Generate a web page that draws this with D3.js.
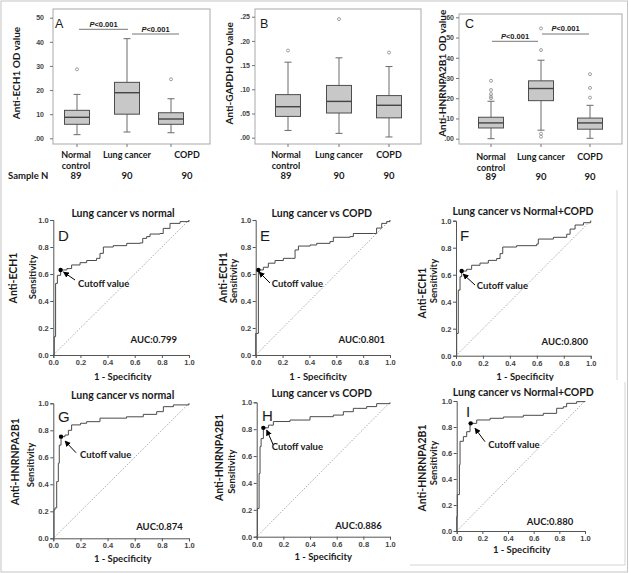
<!DOCTYPE html>
<html>
<head>
<meta charset="utf-8">
<script src="https://cdn.jsdelivr.net/npm/d3@7"></script>
<style>
body { margin: 0; background: #fff; }
svg { display: block; font-family: Lato, "Open Sans", sans-serif; }
</style>
</head>
<body>
<svg id="chart" width="629" height="573"></svg>
<script>
// ---- data ----
var groups = ["Normal control", "Lung cancer", "COPD"];
var groupN = [89, 90, 90];

// [lower whisker, Q1, median, Q3, upper whisker]
var ech1Box = [[1.5, 5.8, 8.7, 11.6, 18.2], [2.6, 10, 18.9, 23.2, 41.3], [2.3, 5.8, 8, 10.6, 16.4]];
var ech1Out = [[28.6], [], [24.5]];
var gapdhBox = [[0.015, 0.044, 0.064, 0.089, 0.156], [0.009, 0.051, 0.075, 0.108, 0.165], [0.0015, 0.041, 0.067, 0.087, 0.147]];
var gapdhOut = [[0.18], [0.245], [0.176]];
var hnrBox = [[0, 0.053, 0.078, 0.106, 0.185], [0.042, 0.188, 0.248, 0.286, 0.388], [0.002, 0.047, 0.078, 0.102, 0.165]];
var hnrOut = [[0.2, 0.208, 0.221, 0.241, 0.286], [0.01, 0.025, 0.438, 0.545], [0.203, 0.251, 0.319]];

var ech1Ticks = [0, 10, 20, 30, 40, 50];
var gapdhTicks = [0, 0.05, 0.10, 0.15, 0.20, 0.25];
var hnrTicks = [0, 0.1, 0.2, 0.3, 0.4, 0.5, 0.6];
var rocTicks = [0, 0.2, 0.4, 0.6, 0.8, 1.0];

// ROC curves: [1 - specificity, sensitivity]
var rocD = [[0,0],[0.007,0],[0.007,0.136],[0.017,0.136],[0.017,0.53],[0.03,0.59],[0.054,0.63],[0.074,0.63],[0.1,0.64],[0.135,0.667],[0.197,0.684],[0.246,0.70],[0.319,0.716],[0.344,0.753],[0.369,0.80],[0.442,0.81],[0.541,0.827],[0.639,0.83],[0.659,0.864],[0.688,0.877],[0.713,0.896],[0.786,0.90],[0.81,0.938],[0.86,0.975],[0.934,0.988],[1,1]];
var rocE = [[0,0],[0,0.16],[0.02,0.16],[0.02,0.63],[0.057,0.65],[0.094,0.68],[0.144,0.70],[0.206,0.716],[0.268,0.716],[0.293,0.778],[0.318,0.807],[0.405,0.815],[0.454,0.827],[0.553,0.84],[0.578,0.872],[0.702,0.877],[0.727,0.90],[0.876,0.90],[0.9,0.94],[0.938,0.975],[0.975,0.988],[1,1]];
var rocF = [[0,0],[0.005,0.07],[0.005,0.165],[0.017,0.486],[0.03,0.585],[0.042,0.627],[0.079,0.64],[0.116,0.67],[0.178,0.686],[0.24,0.706],[0.302,0.72],[0.327,0.756],[0.347,0.805],[0.45,0.815],[0.599,0.827],[0.611,0.864],[0.723,0.877],[0.822,0.90],[0.847,0.938],[0.884,0.968],[0.946,0.985],[1,1]];
var rocG = [[0,0],[0.005,0],[0.005,0.21],[0.012,0.225],[0.025,0.42],[0.037,0.556],[0.044,0.69],[0.057,0.753],[0.086,0.765],[0.111,0.80],[0.135,0.84],[0.2,0.852],[0.246,0.864],[0.344,0.89],[0.54,0.90],[0.663,0.918],[0.762,0.938],[0.811,0.975],[0.885,0.988],[1,1]];
var rocH = [[0,0],[0.005,0],[0.005,0.21],[0.018,0.21],[0.018,0.47],[0.025,0.67],[0.033,0.73],[0.05,0.81],[0.088,0.83],[0.125,0.857],[0.25,0.868],[0.4,0.893],[0.575,0.905],[0.65,0.93],[0.725,0.955],[0.825,0.968],[0.9,0.99],[1,1]];
var rocI = [[0,0],[0,0.11],[0.005,0.28],[0.021,0.51],[0.026,0.69],[0.052,0.726],[0.078,0.764],[0.104,0.828],[0.156,0.854],[0.26,0.867],[0.364,0.877],[0.519,0.89],[0.675,0.905],[0.779,0.944],[0.831,0.956],[0.857,0.982],[0.935,0.995],[1,1]];

var cutoffs = [[0.054, 0.63], [0.02, 0.63], [0.042, 0.627], [0.057, 0.753], [0.05, 0.81], [0.109, 0.828]];
var aucValues = ["0.799", "0.801", "0.800", "0.874", "0.886", "0.880"];
var rocTitles = ["Lung cancer vs normal", "Lung cancer vs COPD", "Lung cancer vs Normal+COPD",
                 "Lung cancer vs normal", "Lung cancer vs COPD", "Lung cancer vs Normal+COPD"];
var rocMarkers = ["Anti-ECH1", "Anti-ECH1", "Anti-ECH1", "Anti-HNRNPA2B1", "Anti-HNRNPA2B1", "Anti-HNRNPA2B1"];
var rocLetters = ["D", "E", "F", "G", "H", "I"];

var svg = d3.select("#chart");
var textCol = "#1a1a1a";

svg.append("defs").append("marker")
    .attr("id", "arrowHead")
    .attr("viewBox", "0 -5 10 10")
    .attr("refX", 9).attr("refY", 0)
    .attr("markerWidth", 6).attr("markerHeight", 6)
    .attr("markerUnits", "userSpaceOnUse")
    .attr("orient", "auto")
    .append("path").attr("d", "M0,-5L10,0L0,5Z").attr("fill", "#000");

function stripZero(d) {
    var s = d3.format(".2f")(d);
    return s.replace(/^0\./, ".");
}

// ---- box plot panels ----
function boxPanel(p) {
    var g = svg.append("g");
    var y = d3.scaleLinear().domain(p.domain).range(p.range);
    var f = p.frame;

    g.append("rect")
        .attr("x", f[0]).attr("y", f[1])
        .attr("width", f[2] - f[0]).attr("height", f[3] - f[1])
        .attr("fill", "none").attr("stroke", "#a9a9a9").attr("stroke-width", 1);

    var ax = g.append("g")
        .attr("transform", "translate(" + f[0] + ",0)")
        .call(d3.axisLeft(y).tickValues(p.ticks).tickSize(3).tickPadding(p.pad).tickFormat(p.fmt));
    ax.select(".domain").remove();
    ax.selectAll("line").attr("stroke", "#777");
    ax.selectAll("text").attr("fill", "#444").style("font-family", "'Liberation Sans', Arial, sans-serif")
        .style("font-size", "7px").style("font-weight", "bold");

    // bottom category ticks
    g.selectAll(".xt").data(p.xs).enter().append("line")
        .attr("x1", function(d) { return d; }).attr("x2", function(d) { return d; })
        .attr("y1", f[3]).attr("y2", f[3] + 3).attr("stroke", "#777");

    p.box.forEach(function(b, i) {
        var cx = p.xs[i], hw = 12.5, cw = 3.5;
        g.append("line").attr("x1", cx).attr("x2", cx).attr("y1", y(b[4])).attr("y2", y(b[3])).attr("stroke", "#6a6a6a");
        g.append("line").attr("x1", cx).attr("x2", cx).attr("y1", y(b[1])).attr("y2", y(b[0])).attr("stroke", "#6a6a6a");
        g.append("line").attr("x1", cx - cw).attr("x2", cx + cw).attr("y1", y(b[4])).attr("y2", y(b[4])).attr("stroke", "#6a6a6a");
        g.append("line").attr("x1", cx - cw).attr("x2", cx + cw).attr("y1", y(b[0])).attr("y2", y(b[0])).attr("stroke", "#6a6a6a");
        g.append("rect").attr("x", cx - hw).attr("width", hw * 2)
            .attr("y", y(b[3])).attr("height", y(b[1]) - y(b[3]))
            .attr("fill", "#c8c8c8").attr("stroke", "#4d4d4d").attr("stroke-width", 1);
        g.append("line").attr("x1", cx - hw).attr("x2", cx + hw).attr("y1", y(b[2])).attr("y2", y(b[2]))
            .attr("stroke", "#444").attr("stroke-width", 1.4);
        g.selectAll(".o" + i).data(p.out[i]).enter().append("circle")
            .attr("cx", cx).attr("cy", function(d) { return y(d); }).attr("r", 1.5)
            .attr("fill", "none").attr("stroke", "#888").attr("stroke-width", 0.8);
    });

    // significance bars
    (p.sig || []).forEach(function(s) {
        g.append("line").attr("x1", s[0]).attr("x2", s[1]).attr("y1", s[2]).attr("y2", s[2]).attr("stroke", "#777");
        var t = g.append("text").attr("x", (s[0] + s[1]) / 2).attr("y", s[3]).attr("text-anchor", "middle")
            .attr("fill", textCol)
            .style("font-family", "'Liberation Sans', Arial, sans-serif").style("font-size", "7.5px").style("font-weight", "bold");
        t.append("tspan").style("font-style", "italic").text("P");
        t.append("tspan").text("<0.001");
    });

    // panel letter
    g.append("text").attr("x", p.letter[0]).attr("y", p.letter[1]).text(p.name)
        .attr("fill", textCol).style("font-family", "'Liberation Sans', Arial, sans-serif").style("font-size", "12.5px");

    // y label
    g.append("text")
        .attr("transform", "translate(" + p.ylab[0] + "," + p.ylab[1] + ") rotate(-90)")
        .attr("text-anchor", "middle").attr("dy", "0.35em")
        .attr("fill", textCol).style("font-size", "10px").style("font-weight", "bold")
        .text(p.ytitle);

    // category labels and N
    groups.forEach(function(c, i) {
        var words = c === "Normal control" ? ["Normal", "control"] : [c];
        var t = g.append("text").attr("text-anchor", "middle").attr("fill", textCol)
            .style("font-size", "9px").style("font-weight", "bold");
        words.forEach(function(w, k) {
            t.append("tspan").attr("x", p.lx[i]).attr("y", p.cy + k * 10.5).text(w);
        });
        g.append("text").attr("x", p.lx[i]).attr("y", p.ny).attr("text-anchor", "middle")
            .attr("fill", textCol).style("font-size", "9.5px").style("font-weight", "bold")
            .text(groupN[i]);
    });
}

boxPanel({
    name: "A", box: ech1Box, out: ech1Out, ticks: ech1Ticks, domain: [0, 50], range: [138.3, 17.7],
    fmt: function(d) { return d === 0 ? ".00" : d; }, pad: 6,
    frame: [53, 9, 210, 144], xs: [77, 127, 171], lx: [76, 127, 187],
    sig: [[79, 128, 29.3, 26.5], [132, 179, 34, 32.3]],
    letter: [55, 28.3], ylab: [16, 73], ytitle: "Anti-ECH1 OD value", cy: 158, ny: 178.5
});
boxPanel({
    name: "B", box: gapdhBox, out: gapdhOut, ticks: gapdhTicks, domain: [0, 0.25], range: [137.7, 16.7],
    fmt: stripZero, pad: 2,
    frame: [255, 9, 421, 144], xs: [288, 339, 389], lx: [286, 339, 389],
    letter: [260, 28.3], ylab: [229, 73.3], ytitle: "Anti-GAPDH OD value", cy: 158, ny: 178.5
});
boxPanel({
    name: "C", box: hnrBox, out: hnrOut, ticks: hnrTicks, domain: [0, 0.6], range: [138.7, 17.3],
    fmt: stripZero, pad: 2,
    frame: [459, 14, 622, 144], xs: [491, 541, 590], lx: [491, 541, 590],
    sig: [[492, 538, 41.3, 38.8], [542, 589, 34, 31.4]],
    letter: [465, 28.3], ylab: [442, 73.3], ytitle: "Anti-HNRNPA2B1 OD value", cy: 160, ny: 180
});

svg.append("text").attr("x", 8).attr("y", 178.5).attr("fill", textCol)
    .style("font-size", "9.5px").style("font-weight", "bold").text("Sample N");

// ---- ROC panels ----
var rocLayout = [
    { x0: 53.3, x1: 189, y0: 355, y1: 220, title: [123, 216.5], letter: [58, 240.5], mk: [13, 278], sens: [33, 277], xl: [122.7, 380], ct: [78, 287], ar: [75, 280, 63.5, 272], auc: [177, 343] },
    { x0: 255.7, x1: 390, y0: 355, y1: 220, title: [321.7, 216.5], letter: [260, 240.5], mk: [223, 277.5], sens: [233.5, 281], xl: [318, 380], ct: [271.7, 286.7], ar: [270, 283, 259, 272], auc: [385, 343] },
    { x0: 456, x1: 590.7, y0: 355.7, y1: 220.7, title: [523, 215], letter: [460, 240.5], mk: [422, 293], sens: [433.5, 281], xl: [525, 380], ct: [476.7, 289], ar: [475, 285, 463, 274], auc: [588, 345] },
    { x0: 53.3, x1: 189, y0: 538.3, y1: 403.3, title: [122.7, 399], letter: [58, 421.5], mk: [15, 461.7], sens: [31, 465], xl: [122.7, 562], ct: [80, 458.3], ar: [76, 452.7, 65, 441], auc: [182.7, 530] },
    { x0: 256.7, x1: 390, y0: 536.7, y1: 402.3, title: [321.7, 397.3], letter: [262, 421], mk: [219, 457.5], sens: [231.5, 471.7], xl: [323.3, 559.5], ct: [271.7, 450], ar: [273.3, 445, 266.7, 430], auc: [381.7, 529] },
    { x0: 456.7, x1: 585, y0: 531, y1: 401, title: [523.3, 395.7], letter: [466, 417], mk: [422, 468], sens: [433.5, 463], xl: [521.7, 553], ct: [488.3, 447.7], ar: [485, 441.7, 475, 428.3], auc: [573.3, 525] }
];
var rocData = [rocD, rocE, rocF, rocG, rocH, rocI];

function rocPanel(i) {
    var L = rocLayout[i];
    var g = svg.append("g");
    var x = d3.scaleLinear().domain([0, 1]).range([L.x0, L.x1]);
    var y = d3.scaleLinear().domain([0, 1]).range([L.y0, L.y1]);

    g.append("line").attr("x1", x(0)).attr("y1", y(0)).attr("x2", x(1)).attr("y2", y(1))
        .attr("stroke", "#777").attr("stroke-width", 0.8).attr("stroke-dasharray", "1,1.6");

    var line = d3.line().x(function(d) { return x(d[0]); }).y(function(d) { return y(d[1]); })
        .curve(d3.curveStepAfter);
    g.append("path").datum(rocData[i]).attr("d", line)
        .attr("fill", "none").attr("stroke", "#4a4a4a").attr("stroke-width", 1);

    var xa = g.append("g").attr("transform", "translate(0," + L.y0 + ")")
        .call(d3.axisBottom(x).tickValues(rocTicks).tickSize(3).tickPadding(1.5).tickFormat(d3.format(".1f")));
    var ya = g.append("g").attr("transform", "translate(" + L.x0 + ",0)")
        .call(d3.axisLeft(y).tickValues(rocTicks).tickSize(3).tickPadding(1.5).tickFormat(d3.format(".1f")));
    [xa, ya].forEach(function(a) {
        a.select(".domain").attr("stroke", "#555");
        a.selectAll("line").attr("stroke", "#555");
        a.selectAll("text").attr("fill", "#444").style("font-family", "'Liberation Sans', Arial, sans-serif")
            .style("font-size", "7.5px").style("font-weight", "bold");
    });

    var c = cutoffs[i];
    g.append("circle").attr("cx", x(c[0])).attr("cy", y(c[1])).attr("r", 2.2).attr("fill", "#000");
    g.append("line").attr("x1", L.ar[0]).attr("y1", L.ar[1]).attr("x2", L.ar[2]).attr("y2", L.ar[3])
        .attr("stroke", "#000").attr("stroke-width", 1).attr("marker-end", "url(#arrowHead)");
    g.append("text").attr("x", L.ct[0]).attr("y", L.ct[1]).attr("fill", textCol)
        .style("font-size", "9.5px").style("font-weight", "bold").text("Cutoff value");

    g.append("text").attr("x", L.auc[0]).attr("y", L.auc[1]).attr("text-anchor", "end").attr("fill", textCol)
        .style("font-size", "9.5px").style("font-weight", "bold").text("AUC:" + aucValues[i]);

    g.append("text").attr("x", L.title[0]).attr("y", L.title[1]).attr("text-anchor", "middle").attr("fill", textCol)
        .style("font-size", "10.5px").style("font-weight", "bold").text(rocTitles[i]);

    g.append("text").attr("x", L.letter[0]).attr("y", L.letter[1]).attr("fill", textCol)
        .style("font-family", "'Liberation Sans', Arial, sans-serif").style("font-size", "15px").text(rocLetters[i]);

    g.append("text").attr("transform", "translate(" + L.mk[0] + "," + L.mk[1] + ") rotate(-90)")
        .attr("text-anchor", "middle").attr("dy", "0.36em").attr("fill", textCol)
        .style("font-size", "10.5px").style("font-weight", "bold").text(rocMarkers[i]);
    g.append("text").attr("transform", "translate(" + L.sens[0] + "," + L.sens[1] + ") rotate(-90)")
        .attr("text-anchor", "middle").attr("dy", "0.36em").attr("fill", textCol)
        .style("font-size", "9.5px").style("font-weight", "bold").text("Sensitivity");

    g.append("text").attr("x", L.xl[0]).attr("y", L.xl[1]).attr("text-anchor", "middle").attr("fill", textCol)
        .style("font-size", "9.5px").style("font-weight", "bold").text("1 - Specificity");
}

[0, 1, 2].forEach(rocPanel);
// bottom row images overlap the lower edge of the middle row
svg.append("rect").attr("x", 2).attr("y", 381).attr("width", 625).attr("height", 190).attr("fill", "#fff");
[3, 4, 5].forEach(rocPanel);
svg.append("rect").attr("x", 2).attr("y", 564).attr("width", 210).attr("height", 7).attr("fill", "#fff");

// panel image borders
svg.append("line").attr("x1", 617).attr("x2", 617).attr("y1", 190).attr("y2", 380).attr("stroke", "#d4d4d4");
svg.append("polyline").attr("points", "410,565 625,565 625,382").attr("fill", "none").attr("stroke", "#d4d4d4");
svg.append("rect").attr("x", 1).attr("y", 1).attr("width", 626.5).attr("height", 571)
    .attr("fill", "none").attr("stroke", "#c4c4c4");
</script>
</body>
</html>
